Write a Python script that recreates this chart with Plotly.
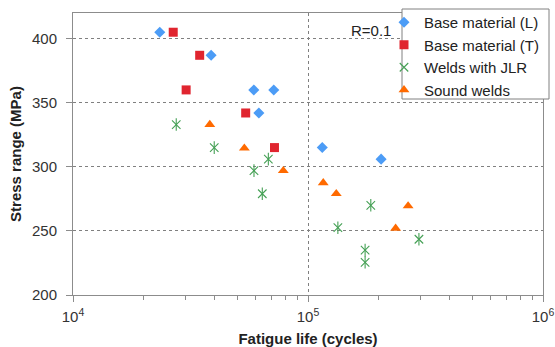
import plotly.graph_objects as go

# Data
bm_L_life = [23400, 38700, 58800, 71500, 61800, 115000, 204700]
bm_L_stress = [405, 387, 360, 360, 342, 315, 306]

bm_T_life = [26700, 34600, 30300, 54300, 72000]
bm_T_stress = [405, 387, 360, 342, 315]

jlr_life = [27500, 39900, 67800, 58900, 63900, 185000, 134000, 175000, 175000, 296500]
jlr_stress = [333, 315, 306, 297, 279, 270, 252.5, 235, 225.5, 243.5]

sw_life = [38200, 53600, 78500, 116100, 131900, 266700, 236000]
sw_stress = [333, 314.5, 297, 287.5, 279, 269.5, 252]

x_tick_vals = [1e4, 1e5, 1e6]
x_tick_text = ["10<sup>4</sup>", "10<sup>5</sup>", "10<sup>6</sup>"]
x_minor_vals = [m * 10**e for e in (4, 5) for m in range(2, 10)]
y_tick_vals = [200, 250, 300, 350, 400]

FONT = "Liberation Sans, Arial, sans-serif"
W, H = 555, 347
ML, MR, MT, MB = 73, 12, 13, 52
PW, PH = W - ML - MR, H - MT - MB


def px_x(p):
    return (p - ML) / PW


def px_y(p):
    return (H - MB - p) / PH


fig = go.Figure()
fig.add_trace(go.Scatter(x=bm_L_life, y=bm_L_stress, mode="markers", name="Base material (L)",
                         marker=dict(symbol="diamond", size=8.5, color="#4C9CF6")))
fig.add_trace(go.Scatter(x=bm_T_life, y=bm_T_stress, mode="markers", name="Base material (T)",
                         marker=dict(symbol="square", size=9, color="#E0252F")))
fig.add_trace(go.Scatter(x=jlr_life, y=jlr_stress, mode="markers", name="Welds with JLR",
                         legendgroup="jlr",
                         marker=dict(symbol="x-thin-open", size=8.5, color="#45A055",
                                     line=dict(width=1.1, color="#45A055"))))
fig.add_trace(go.Scatter(x=jlr_life, y=jlr_stress, mode="markers", showlegend=False,
                         legendgroup="jlr", hoverinfo="skip",
                         marker=dict(symbol="line-ns-open", size=9, color="#45A055",
                                     line=dict(width=1.1, color="#45A055"))))
fig.add_trace(go.Scatter(x=sw_life, y=sw_stress, mode="markers", name="Sound welds",
                         marker=dict(symbol="triangle-up", size=9.5, color="#FF6A00")))

axis_common = dict(showline=True, linecolor="#8c8c8c", linewidth=1, mirror=True,
                   gridcolor="#808080", griddash="dot", gridwidth=1,
                   ticks="outside", tickcolor="#8c8c8c", ticklen=6,
                   tickfont=dict(family=FONT, size=15, color="#333333"),
                   zeroline=False, automargin=False)

fig.update_layout(
    width=W, height=H,
    margin=dict(l=ML, r=MR, t=MT, b=MB, autoexpand=False),
    paper_bgcolor="white", plot_bgcolor="white",
    font=dict(family=FONT, size=15, color="#222222"),
    showlegend=True,
    legend=dict(x=px_x(384), y=px_y(6), xanchor="left", yanchor="top",
                bgcolor="rgba(0,0,0,0)", borderwidth=0,
                font=dict(family=FONT, size=15, color="#222222"),
                itemwidth=30, tracegroupgap=0),
    xaxis=dict(type="log", range=[4, 6], tickvals=x_tick_vals, ticktext=x_tick_text,
               minor=dict(tickvals=x_minor_vals, ticks="outside", ticklen=4,
                          tickcolor="#8c8c8c", showgrid=False),
               ticklabelstandoff=2,
               title=dict(text="<b>Fatigue life (cycles)</b>", standoff=10,
                          font=dict(family=FONT, size=15, color="#222222")),
               **axis_common),
    yaxis=dict(range=[200, 420], tickvals=y_tick_vals,
               ticklabelstandoff=6,
               title=dict(text="<b>Stress range (MPa)</b>", standoff=6,
                          font=dict(family=FONT, size=15, color="#222222")),
               **axis_common),
    shapes=[dict(type="rect", xref="paper", yref="paper", layer="above",
                 x0=px_x(402), x1=px_x(549), y0=px_y(99), y1=px_y(9),
                 fillcolor="white", line=dict(color="#808080", width=1))],
    annotations=[dict(text="R=0.1", x=px_x(371), y=px_y(30), xref="paper", yref="paper",
                      xanchor="center", yanchor="middle",
                      showarrow=False, font=dict(family=FONT, size=15, color="#222222"))],
)

fig.write_html("out.html")
